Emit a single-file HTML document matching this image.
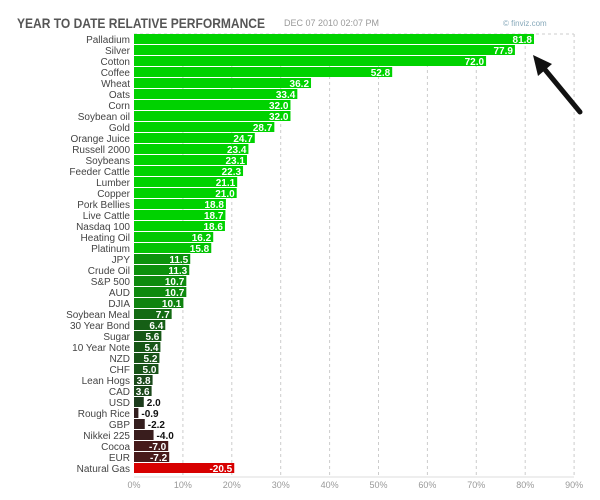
<!DOCTYPE html>
<html><head><meta charset="utf-8"><style>
body{margin:0;background:#fff;width:600px;height:495px;overflow:hidden;font-family:"Liberation Sans",sans-serif}
</style></head><body>
<svg id="s" width="600" height="495" xmlns="http://www.w3.org/2000/svg" font-family="Liberation Sans, sans-serif">
<text x="17" y="28" font-size="14" font-weight="bold" fill="#555" textLength="248" lengthAdjust="spacingAndGlyphs">YEAR TO DATE RELATIVE PERFORMANCE</text>
<text x="284" y="26" font-size="9" fill="#999">DEC 07 2010 02:07 PM</text>
<text x="503" y="26" font-size="8" fill="#8ab">© finviz.com</text>
</svg>
<script>
var d=[["Palladium",81.8],["Silver",77.9],["Cotton",72.0],["Coffee",52.8],["Wheat",36.2],["Oats",33.4],["Corn",32.0],["Soybean oil",32.0],["Gold",28.7],["Orange Juice",24.7],["Russell 2000",23.4],["Soybeans",23.1],["Feeder Cattle",22.3],["Lumber",21.1],["Copper",21.0],["Pork Bellies",18.8],["Live Cattle",18.7],["Nasdaq 100",18.6],["Heating Oil",16.2],["Platinum",15.8],["JPY",11.5],["Crude Oil",11.3],["S&P 500",10.7],["AUD",10.7],["DJIA",10.1],["Soybean Meal",7.7],["30 Year Bond",6.4],["Sugar",5.6],["10 Year Note",5.4],["NZD",5.2],["CHF",5.0],["Lean Hogs",3.8],["CAD",3.6],["USD",2.0],["Rough Rice",-0.9],["GBP",-2.2],["Nikkei 225",-4.0],["Cocoa",-7.0],["EUR",-7.2],["Natural Gas",-20.5]];
var s=document.getElementById('s'),h='';
var x0=134,k=4.89,ty=34,rh=11;
for(var i=0;i<=9;i++){var x=x0+i*10*k;
 if(i>0)h+='<line x1="'+x+'" y1="34" x2="'+x+'" y2="477" stroke="#ccc" stroke-dasharray="3,3"/>';
 h+='<text x="'+x+'" y="488" font-size="9" fill="#999" text-anchor="middle">'+(i*10)+'%</text>';}
h+='<line x1="134" y1="34" x2="574" y2="34" stroke="#ccc" stroke-dasharray="3,3"/>';
h+='<line x1="134" y1="477" x2="574" y2="477" stroke="#ddd"/>';
function mix(a,b,t){return 'rgb('+a.map(function(v,j){return Math.round(v+(b[j]-v)*t)}).join(',')+')'}
d.forEach(function(r,i){var v=r[1],w=Math.abs(v)*k,y=ty+i*rh,c;
 if(v>=0){c=mix([30,50,30],[0,210,0],Math.min(Math.pow(v/17,1.3),1));}
 else{c=mix([50,30,30],[215,0,0],Math.min(Math.pow(-v/20,2),1));}
 h+='<rect x="'+x0+'" y="'+y+'" width="'+w+'" height="10" fill="'+c+'"/>';
 h+='<text x="130" y="'+(y+9)+'" font-size="10" fill="#444" text-anchor="end">'+r[0].replace('&','&amp;')+'</text>';
 var t=v.toFixed(1);
 if((v>0&&w>16)||(v<0&&w>25))h+='<text x="'+(x0+w-2)+'" y="'+(y+9)+'" font-size="10" font-weight="bold" fill="#fff" text-anchor="end">'+t+'</text>';
 else h+='<text x="'+(x0+w+3)+'" y="'+(y+9)+'" font-size="10" font-weight="bold" fill="#111">'+t+'</text>';
});
h+='<line x1="580" y1="112" x2="542" y2="66" stroke="#111" stroke-width="5" stroke-linecap="round"/>';
h+='<polygon points="533,55 552,64 538,76" fill="#111"/>';
s.insertAdjacentHTML('beforeend',h);
</script>
</body></html>
